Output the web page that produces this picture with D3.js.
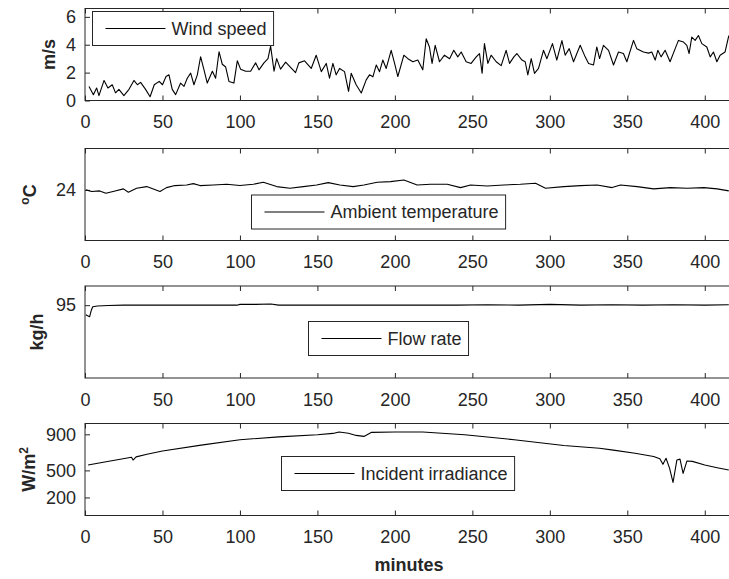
<!DOCTYPE html>
<html>
<head>
<meta charset="utf-8">
<script src="https://cdn.jsdelivr.net/npm/d3@7"></script>
<style>
body { margin: 0; background: #fff; overflow: hidden; }
</style>
</head>
<body>
<div id="playground"></div>
<script>
var settings = {}

// General
settings.width = 729
settings.height = 579
settings.left = 85
settings.right = 730.5 // box runs just past the window edge
settings.panel_height = 92
settings.tick_length = 5

// Text
settings.font_family = 'Liberation Sans, Arial, Helvetica, sans-serif'
settings.tick_font_size = 18
settings.label_font_size = 18
settings.legend_font_size = 18

// Colors
settings.axis_color = '#262626'
settings.line_color = '#000'
settings.line_width = 1.1

// --- (end of settings)

// Data
var minuteTicks = [0, 50, 100, 150, 200, 250, 300, 350, 400]
var minuteRange = [0, 416.6]

var windTicks = [0, 2, 4, 6]
var windMinutes = [2.6, 5.4, 7.5, 9.0, 12.3, 14.8, 17.6, 19.7, 21.9, 25.1, 28.4, 31.6, 33.8, 35.9, 39.1, 42.0, 44.7, 47.9, 50.0, 52.3,
  54.2, 56.3, 58.5, 61.7, 63.9, 66.0, 68.2, 70.3, 72.5, 74.6, 76.8, 78.9, 82.2, 84.3, 86.5, 88.6, 90.8, 92.9, 96.1, 98.3,
  100.4, 103.7, 106.9, 110.1, 112.3, 115.5, 118.1, 119.8, 122.0, 123.7, 126.2, 129.5, 131.6, 135.9, 138.0, 141.7, 146.0, 149.2, 152.5, 155.7,
  157.8, 160.0, 162.1, 164.3, 167.5, 170.1, 171.8, 175.0, 178.3, 181.5, 183.6, 185.8, 188.0, 190.1, 192.2, 194.4, 197.6, 199.8, 201.9, 205.8,
  208.4, 211.6, 214.8, 218.0, 220.2, 222.3, 224.0, 226.0, 228.8, 232.0, 235.3, 238.0, 240.6, 242.8, 246.0, 249.2, 252.5, 254.6, 256.3, 257.8,
  260.0, 262.1, 265.4, 268.6, 271.8, 274.0, 276.8, 278.7, 282.0, 284.1, 285.8, 288.0, 290.1, 292.7, 295.9, 298.1, 301.7, 304.5, 307.8, 309.9,
  312.5, 315.3, 319.6, 322.8, 325.0, 328.2, 330.3, 332.1, 334.6, 337.9, 341.1, 344.3, 347.5, 349.7, 354.0, 356.1, 360.4, 363.7, 365.8, 368.0,
  369.7, 371.8, 374.4, 377.6, 380.9, 383.0, 386.3, 388.4, 389.9, 391.6, 393.8, 395.9, 398.1, 401.3, 403.5, 405.6, 407.8, 409.9, 413.1, 415.5]
var windSpeed = [1.01, 0.42, 0.90, 0.35, 1.44, 0.90, 1.13, 0.55, 0.80, 0.35, 0.80, 1.44, 1.13, 1.30, 0.80, 0.27, 1.13, 1.37, 1.13, 1.72,
  1.84, 0.80, 0.42, 1.25, 1.01, 1.60, 1.96, 1.13, 1.84, 3.14, 2.20, 1.25, 2.10, 1.60, 3.50, 2.60, 2.40, 1.37, 1.25, 2.85,
  2.25, 2.10, 2.10, 2.70, 2.20, 2.70, 3.00, 3.90, 2.10, 3.00, 2.25, 2.75, 2.50, 2.00, 2.70, 2.85, 2.30, 3.25, 2.07, 2.66,
  1.60, 2.66, 1.84, 2.30, 2.07, 0.66, 1.95, 1.13, 0.54, 1.48, 1.84, 1.70, 2.55, 2.07, 2.90, 2.30, 3.60, 2.66, 1.72, 3.25,
  3.00, 2.78, 2.90, 2.20, 4.43, 3.84, 2.66, 3.96, 2.78, 3.25, 3.00, 3.60, 3.13, 3.48, 2.78, 2.66, 3.13, 3.37, 1.95, 4.08,
  2.66, 3.25, 2.78, 2.50, 3.60, 2.66, 3.13, 3.37, 2.90, 2.78, 1.84, 3.00, 1.95, 2.30, 3.60, 3.00, 4.08, 2.90, 4.30, 3.25,
  3.72, 2.78, 3.96, 3.13, 2.66, 2.55, 3.84, 3.01, 3.96, 3.60, 2.55, 3.48, 3.37, 2.78, 4.31, 3.72, 3.48, 3.40, 3.48, 2.90,
  3.60, 3.13, 3.60, 2.78, 3.72, 4.31, 4.19, 3.96, 3.37, 4.55, 4.31, 4.66, 4.08, 3.84, 3.13, 3.48, 2.78, 3.25, 3.48, 4.66]

var tempTicks = [24]
var tempMinutes = [0.6, 4.3, 9.5, 13.5, 19.4, 24.8, 28.0, 33.3, 39.8, 48.4, 52.6, 58.0, 65.6, 69.9, 74.2, 82.8, 91.4, 100.0, 108.6, 115.1,
  123.7, 132.3, 140.9, 149.5, 157.0, 164.5, 173.1, 180.0, 188.6, 197.2, 205.8, 214.4, 223.0, 233.8, 242.4, 248.8, 259.6, 270.3, 281.0, 290.8,
  297.2, 309.0, 319.8, 330.5, 340.2, 345.6, 356.3, 367.0, 377.8, 388.6, 399.4, 408.0, 415.5]
var tempValues = [24.00, 23.82, 23.89, 23.64, 23.89, 24.11, 23.75, 24.18, 24.36, 23.82, 24.25, 24.47, 24.54, 24.68, 24.47, 24.54, 24.61, 24.47, 24.61, 24.83,
  24.36, 24.18, 24.36, 24.54, 24.79, 24.54, 24.36, 24.54, 24.83, 24.90, 25.08, 24.54, 24.61, 24.61, 24.25, 24.54, 24.43, 24.54, 24.61, 24.72,
  24.18, 24.36, 24.47, 24.54, 24.25, 24.54, 24.36, 24.11, 24.25, 24.18, 24.25, 24.11, 23.89]

var flowTicks = [95]
var flowMinutes = [0.5, 2, 3, 4, 5, 8, 15, 25, 40, 60, 80, 98, 100, 110, 120, 125, 140, 160, 180, 200,
  220, 240, 260, 280, 300, 320, 340, 360, 380, 400, 415.5]
var flowValues = [92.5, 92.2, 92.0, 93.6, 94.6, 94.8, 94.9, 95.0, 95.0, 95.0, 95.0, 95.0, 95.2, 95.2, 95.3, 95.0, 95.0, 95.0, 95.0, 95.0,
  95.0, 95.0, 95.1, 95.0, 95.2, 95.0, 95.1, 95.0, 95.1, 95.0, 95.1]

var irrTicks = [200, 500, 900]
var irrMinutes = [2, 10, 20, 30, 31, 33, 40, 50, 75, 100, 125, 150, 160, 164, 170, 175, 180, 185, 200, 218,
  245, 277, 309, 332, 341, 355, 367, 371, 373, 375, 377.3, 379.5, 382, 384, 386, 388.5, 392, 400, 408, 415.5]
var irrValues = [560, 585, 615, 645, 615, 650, 680, 716, 780, 840, 872, 896, 910, 926, 912, 888, 877, 922, 926, 926,
  896, 840, 776, 745, 725, 690, 655, 630, 567, 635, 523, 366, 616, 625, 467, 605, 600, 560, 530, 504]

// Panel layout
var panels = [
  { top: 8.5, domain: [0, 6.6], ticks: windTicks, xs: windMinutes, ys: windSpeed,
    legend: 'Wind speed', legendX: 92.5, legendY: 11.5, label: [['m/s']], labelX: 55 },
  { top: 148.5, domain: [18.5, 28.5], ticks: tempTicks, xs: tempMinutes, ys: tempValues,
    legend: 'Ambient temperature', legendX: 251.5, legendY: 195, label: [['o', 'sup'], ['C']], labelX: 36 },
  { top: 286, domain: [76, 100], ticks: flowTicks, xs: flowMinutes, ys: flowValues,
    legend: 'Flow rate', legendX: 308.5, legendY: 321.5, label: [['kg/h']], labelX: 43 },
  { top: 423.5, domain: [0, 1020], ticks: irrTicks, xs: irrMinutes, ys: irrValues,
    legend: 'Incident irradiance', legendX: 281.5, legendY: 456.5, label: [['W/m'], ['2', 'sup']], labelX: 35 }
]

// Create the svg space
var svg = d3.select('#playground').append('svg')
  .attr('width', settings.width)
  .attr('height', settings.height)
  .style('font-family', settings.font_family)

var x = d3.scaleLinear().domain(minuteRange).range([settings.left, settings.right])

panels.forEach(function(p){
  var bottom = p.top + settings.panel_height
  var y = d3.scaleLinear().domain(p.domain).range([bottom, p.top])

  // Ticks, pointing inside the box
  var bottomAxis = svg.append('g')
    .attr('transform', 'translate(0,' + bottom + ')')
    .call(d3.axisBottom(x).tickValues(minuteTicks).tickSizeInner(-settings.tick_length).tickSizeOuter(0).tickPadding(15).tickFormat(d3.format('d')))
  var topAxis = svg.append('g')
    .attr('transform', 'translate(0,' + p.top + ')')
    .call(d3.axisTop(x).tickValues(minuteTicks).tickSizeInner(-settings.tick_length).tickSizeOuter(0).tickFormat(''))
  var leftAxis = svg.append('g')
    .attr('transform', 'translate(' + settings.left + ',0)')
    .call(d3.axisLeft(y).tickValues(p.ticks).tickSizeInner(-settings.tick_length).tickSizeOuter(0).tickPadding(9).tickFormat(d3.format('d')))

  ;[bottomAxis, topAxis, leftAxis].forEach(function(a){
    a.select('.domain').remove()
    a.selectAll('line').attr('stroke', settings.axis_color)
    a.selectAll('text')
      .attr('fill', settings.axis_color)
      .attr('font-size', settings.tick_font_size)
      .attr('font-family', settings.font_family)
  })

  // Box
  svg.append('rect')
    .attr('x', settings.left)
    .attr('y', p.top)
    .attr('width', settings.right - settings.left)
    .attr('height', settings.panel_height)
    .attr('fill', 'none')
    .attr('stroke', settings.axis_color)
    .attr('stroke-width', 1)

  // Series
  var line = d3.line()
    .x(function(d, i){ return x(p.xs[i]) })
    .y(function(d){ return y(d) })
  svg.append('path')
    .attr('d', line(p.ys))
    .attr('fill', 'none')
    .attr('stroke', settings.line_color)
    .attr('stroke-width', settings.line_width)
    .attr('stroke-linejoin', 'round')

  // Legend
  var lg = svg.append('g').attr('transform', 'translate(' + p.legendX + ',' + p.legendY + ')')
  var box = lg.append('rect')
    .attr('height', 34)
    .attr('fill', '#fff')
    .attr('stroke', settings.axis_color)
    .attr('stroke-width', 1)
  lg.append('line')
    .attr('x1', 13).attr('x2', 73)
    .attr('y1', 17).attr('y2', 17)
    .attr('stroke', settings.line_color)
    .attr('stroke-width', settings.line_width)
  var t = lg.append('text')
    .attr('x', 79)
    .attr('y', 17)
    .attr('dy', '0.35em')
    .attr('font-size', settings.legend_font_size)
    .attr('fill', settings.axis_color)
    .text(p.legend)
  box.attr('width', 79 + t.node().getComputedTextLength() + 7)

  // Y label
  var lab = svg.append('text')
    .attr('transform', 'translate(' + p.labelX + ',' + (p.top + settings.panel_height / 2) + ') rotate(-90)')
    .attr('text-anchor', 'middle')
    .attr('font-size', settings.label_font_size)
    .attr('font-weight', 'bold')
    .attr('fill', settings.axis_color)
  p.label.forEach(function(part, i){
    var sp = lab.append('tspan').text(part[0])
    if (part[1] === 'sup') {
      sp.attr('font-size', 12).attr('dy', '-0.6em')
    } else if (i > 0 && p.label[i - 1][1] === 'sup') {
      sp.attr('dy', '0.4em')
    }
  })
})

// X label
svg.append('text')
  .attr('x', 409)
  .attr('y', 571)
  .attr('text-anchor', 'middle')
  .attr('font-size', settings.label_font_size)
  .attr('font-weight', 'bold')
  .attr('fill', settings.axis_color)
  .text('minutes')
</script>
</body>
</html>
